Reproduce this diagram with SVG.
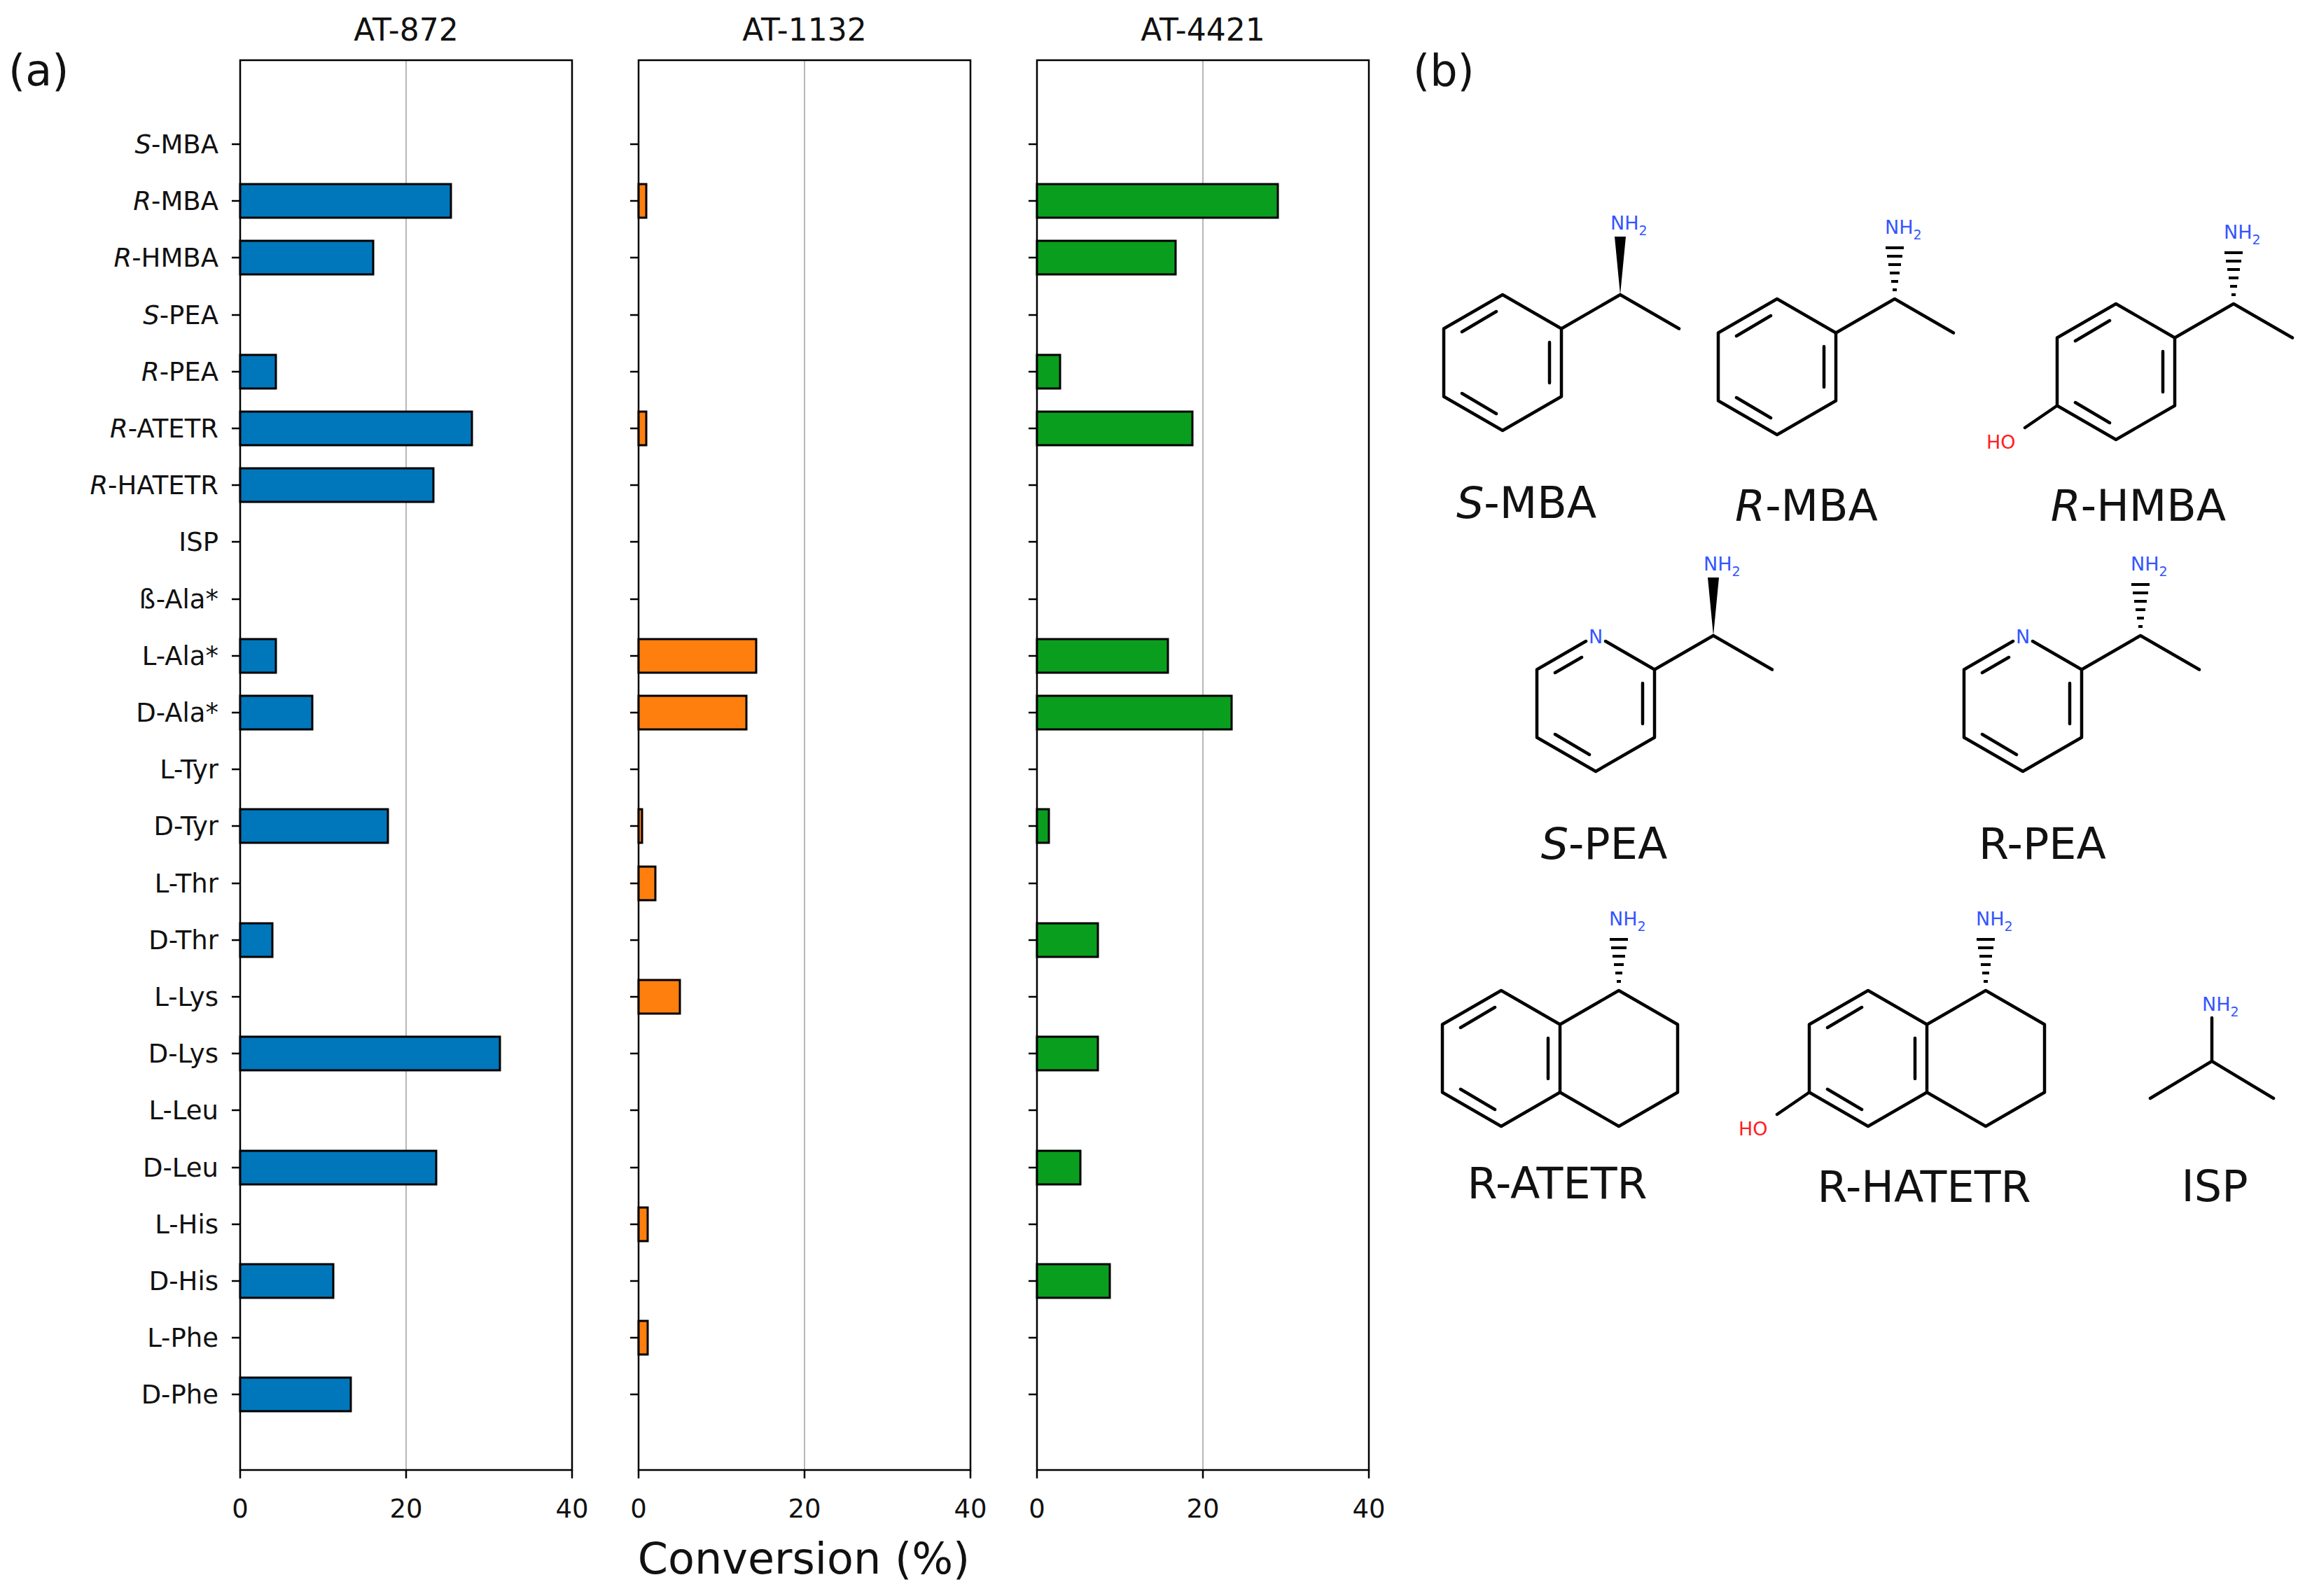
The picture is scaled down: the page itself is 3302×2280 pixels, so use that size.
<svg xmlns="http://www.w3.org/2000/svg" width="3302" height="2280" viewBox="0 0 3302 2280">
<style>
text{font-family:"DejaVu Sans","Liberation Sans",sans-serif;fill:#111}
.yl{font-size:37px;text-anchor:end}
.xl{font-size:37px;text-anchor:middle}
.ti{font-size:44px;text-anchor:middle}
.ml{font-size:62px;text-anchor:middle}
.nh{font-size:27px;fill:#3355ff}
.ho{font-size:27px;fill:#ff2020}
.frame{fill:none;stroke:#000;stroke-width:2.5}
.grid{stroke:#b8b8b8;stroke-width:2}
.tk{stroke:#000;stroke-width:2.5}
.b1{fill:#0077bb;stroke:#000;stroke-width:3}
.b2{fill:#ff7f0e;stroke:#000;stroke-width:3}
.b3{fill:#0a9e1e;stroke:#000;stroke-width:3}
.bd{fill:none;stroke:#000;stroke-width:4.5;stroke-linejoin:round;stroke-linecap:round}
</style>
<defs>
<g id="benz">
<path class="bd" d="M0,-97 L84,-48.5 L84,48.5 L0,97 L-84,48.5 L-84,-48.5 Z M67,-29 L67,29 M-58,44 L-9,73 M-58,-44 L-9,-73"/>
</g>
<g id="hash">
<path stroke="#000" stroke-width="4" d="M165,-110 h6 M163,-122 h10 M161,-134 h14 M159,-146 h18 M157,-158 h22 M155,-170 h26"/>
</g>
</defs>
<text x="12" y="122" style="font-size:62px">(a)</text>
<text x="2018" y="122" style="font-size:62px">(b)</text>
<g id="panel-AT-872">
<text class="ti" x="580" y="58">AT-872</text>
<line class="grid" x1="580" y1="86" x2="580" y2="2100"/>
<rect class="frame" x="343" y="86" width="474" height="2014"/>
</g>
<g id="panel-AT-1132">
<text class="ti" x="1149" y="58">AT-1132</text>
<line class="grid" x1="1149" y1="86" x2="1149" y2="2100"/>
<rect class="frame" x="912" y="86" width="474" height="2014"/>
</g>
<g id="panel-AT-4421">
<text class="ti" x="1718" y="58">AT-4421</text>
<line class="grid" x1="1718" y1="86" x2="1718" y2="2100"/>
<rect class="frame" x="1481" y="86" width="474" height="2014"/>
</g>
<g id="xticks">
<path class="tk" d="M343,2100v12M580,2100v12M817,2100v12M912,2100v12M1149,2100v12M1386,2100v12M1481,2100v12M1718,2100v12M1955,2100v12"/>
<text class="xl" x="343" y="2168">0</text><text class="xl" x="580" y="2168">20</text><text class="xl" x="817" y="2168">40</text>
<text class="xl" x="912" y="2168">0</text><text class="xl" x="1149" y="2168">20</text><text class="xl" x="1386" y="2168">40</text>
<text class="xl" x="1481" y="2168">0</text><text class="xl" x="1718" y="2168">20</text><text class="xl" x="1955" y="2168">40</text>
<text x="1148" y="2248" style="font-size:62px;text-anchor:middle">Conversion (%)</text>
</g>
<g id="yticks">
<path class="tk" d="M331,206h12M331,287h12M331,368h12M331,450h12M331,531h12M331,612h12M331,693h12M331,774h12M331,856h12M331,937h12M331,1018h12M331,1099h12M331,1180h12M331,1262h12M331,1343h12M331,1424h12M331,1505h12M331,1586h12M331,1668h12M331,1749h12M331,1830h12M331,1911h12M331,1992h12"/>
<path class="tk" d="M900,206h12M900,287h12M900,368h12M900,450h12M900,531h12M900,612h12M900,693h12M900,774h12M900,856h12M900,937h12M900,1018h12M900,1099h12M900,1180h12M900,1262h12M900,1343h12M900,1424h12M900,1505h12M900,1586h12M900,1668h12M900,1749h12M900,1830h12M900,1911h12M900,1992h12"/>
<path class="tk" d="M1469,206h12M1469,287h12M1469,368h12M1469,450h12M1469,531h12M1469,612h12M1469,693h12M1469,774h12M1469,856h12M1469,937h12M1469,1018h12M1469,1099h12M1469,1180h12M1469,1262h12M1469,1343h12M1469,1424h12M1469,1505h12M1469,1586h12M1469,1668h12M1469,1749h12M1469,1830h12M1469,1911h12M1469,1992h12"/>
<g transform="translate(0,13)">
<text class="yl" x="312" y="206"><tspan font-style="italic">S</tspan>-MBA</text>
<text class="yl" x="312" y="287"><tspan font-style="italic">R</tspan>-MBA</text>
<text class="yl" x="312" y="368"><tspan font-style="italic">R</tspan>-HMBA</text>
<text class="yl" x="312" y="450"><tspan font-style="italic">S</tspan>-PEA</text>
<text class="yl" x="312" y="531"><tspan font-style="italic">R</tspan>-PEA</text>
<text class="yl" x="312" y="612"><tspan font-style="italic">R</tspan>-ATETR</text>
<text class="yl" x="312" y="693"><tspan font-style="italic">R</tspan>-HATETR</text>
<text class="yl" x="312" y="774">ISP</text>
<text class="yl" x="312" y="856">ß-Ala*</text>
<text class="yl" x="312" y="937">L-Ala*</text>
<text class="yl" x="312" y="1018">D-Ala*</text>
<text class="yl" x="312" y="1099">L-Tyr</text>
<text class="yl" x="312" y="1180">D-Tyr</text>
<text class="yl" x="312" y="1262">L-Thr</text>
<text class="yl" x="312" y="1343">D-Thr</text>
<text class="yl" x="312" y="1424">L-Lys</text>
<text class="yl" x="312" y="1505">D-Lys</text>
<text class="yl" x="312" y="1586">L-Leu</text>
<text class="yl" x="312" y="1668">D-Leu</text>
<text class="yl" x="312" y="1749">L-His</text>
<text class="yl" x="312" y="1830">D-His</text>
<text class="yl" x="312" y="1911">L-Phe</text>
<text class="yl" x="312" y="1992">D-Phe</text>
</g>
</g>
<g id="bars-AT-872">
<rect class="b1" x="343" y="263" width="301" height="48"/>
<rect class="b1" x="343" y="344" width="190" height="48"/>
<rect class="b1" x="343" y="507" width="51" height="48"/>
<rect class="b1" x="343" y="588" width="331" height="48"/>
<rect class="b1" x="343" y="669" width="276" height="48"/>
<rect class="b1" x="343" y="913" width="51" height="48"/>
<rect class="b1" x="343" y="994" width="103" height="48"/>
<rect class="b1" x="343" y="1156" width="211" height="48"/>
<rect class="b1" x="343" y="1319" width="46" height="48"/>
<rect class="b1" x="343" y="1481" width="371" height="48"/>
<rect class="b1" x="343" y="1644" width="280" height="48"/>
<rect class="b1" x="343" y="1806" width="133" height="48"/>
<rect class="b1" x="343" y="1968" width="158" height="48"/>
</g>
<g id="bars-AT-1132">
<rect class="b2" x="912" y="263" width="11" height="48"/>
<rect class="b2" x="912" y="588" width="11" height="48"/>
<rect class="b2" x="912" y="913" width="168" height="48"/>
<rect class="b2" x="912" y="994" width="154" height="48"/>
<rect class="b2" x="912" y="1156" width="5" height="48"/>
<rect class="b2" x="912" y="1238" width="24" height="48"/>
<rect class="b2" x="912" y="1400" width="59" height="48"/>
<rect class="b2" x="912" y="1725" width="13" height="48"/>
<rect class="b2" x="912" y="1887" width="13" height="48"/>
</g>
<g id="bars-AT-4421">
<rect class="b3" x="1481" y="263" width="344" height="48"/>
<rect class="b3" x="1481" y="344" width="198" height="48"/>
<rect class="b3" x="1481" y="507" width="33" height="48"/>
<rect class="b3" x="1481" y="588" width="222" height="48"/>
<rect class="b3" x="1481" y="913" width="187" height="48"/>
<rect class="b3" x="1481" y="994" width="278" height="48"/>
<rect class="b3" x="1481" y="1156" width="17" height="48"/>
<rect class="b3" x="1481" y="1319" width="87" height="48"/>
<rect class="b3" x="1481" y="1481" width="87" height="48"/>
<rect class="b3" x="1481" y="1644" width="62" height="48"/>
<rect class="b3" x="1481" y="1806" width="104" height="48"/>
</g>
<g id="mol-S-MBA" transform="translate(2146,518)">
<use href="#benz"/>
<path class="bd" d="M84,-48.5 L168,-97 L252,-48.5"/>
<polygon points="168,-97 160,-180 176,-180" fill="#000"/>
<text class="nh" x="154" y="-190">NH<tspan font-size="19" dy="8">2</tspan></text>
<text class="ml" x="34" y="222"><tspan font-style="italic">S</tspan>-MBA</text>
</g>
<g id="mol-R-MBA" transform="translate(2538,524)">
<use href="#benz"/>
<path class="bd" d="M84,-48.5 L168,-97 L252,-48.5"/>
<use href="#hash"/>
<text class="nh" x="154" y="-190">NH<tspan font-size="19" dy="8">2</tspan></text>
<text class="ml" x="42" y="220"><tspan font-style="italic">R</tspan>-MBA</text>
</g>
<g id="mol-R-HMBA" transform="translate(3022,531)">
<use href="#benz"/>
<path class="bd" d="M84,-48.5 L168,-97 L252,-48.5 M-84,48.5 L-130,80"/>
<use href="#hash"/>
<text class="nh" x="154" y="-190">NH<tspan font-size="19" dy="8">2</tspan></text>
<text class="ho" x="-185" y="110">HO</text>
<text class="ml" x="32" y="213"><tspan font-style="italic">R</tspan>-HMBA</text>
</g>
<g id="mol-S-PEA" transform="translate(2279,1005)">
<path class="bd" d="M14,-89 L84,-48.5 L84,48.5 L0,97 L-84,48.5 L-84,-48.5 L-14,-89 M67,-29 L67,29 M-58,44 L-9,73 M-58,-44 L-20,-66"/>
<text x="0" y="-86" style="font-size:27px;fill:#3355ff;text-anchor:middle">N</text>
<path class="bd" d="M84,-48.5 L168,-97 L252,-48.5"/>
<polygon points="168,-97 160,-180 176,-180" fill="#000"/>
<text class="nh" x="154" y="-190">NH<tspan font-size="19" dy="8">2</tspan></text>
<text class="ml" x="12" y="222"><tspan font-style="italic">S</tspan>-PEA</text>
</g>
<g id="mol-R-PEA" transform="translate(2889,1005)">
<path class="bd" d="M14,-89 L84,-48.5 L84,48.5 L0,97 L-84,48.5 L-84,-48.5 L-14,-89 M67,-29 L67,29 M-58,44 L-9,73 M-58,-44 L-20,-66"/>
<text x="0" y="-86" style="font-size:27px;fill:#3355ff;text-anchor:middle">N</text>
<path class="bd" d="M84,-48.5 L168,-97 L252,-48.5"/>
<use href="#hash"/>
<text class="nh" x="154" y="-190">NH<tspan font-size="19" dy="8">2</tspan></text>
<text class="ml" x="28" y="222">R-PEA</text>
</g>
<g id="mol-R-ATETR" transform="translate(2144,1512)">
<use href="#benz"/>
<path class="bd" d="M84,-48.5 L168,-97 L252,-48.5 L252,48.5 L168,97 L84,48.5"/>
<use href="#hash"/>
<text class="nh" x="154" y="-190">NH<tspan font-size="19" dy="8">2</tspan></text>
<text class="ml" x="80" y="200">R-ATETR</text>
</g>
<g id="mol-R-HATETR" transform="translate(2668,1512)">
<use href="#benz"/>
<path class="bd" d="M84,-48.5 L168,-97 L252,-48.5 L252,48.5 L168,97 L84,48.5 M-84,48.5 L-130,80"/>
<use href="#hash"/>
<text class="nh" x="154" y="-190">NH<tspan font-size="19" dy="8">2</tspan></text>
<text class="ho" x="-185" y="110">HO</text>
<text class="ml" x="80" y="205">R-HATETR</text>
</g>
<g id="mol-ISP" transform="translate(3159,1516)">
<path class="bd" d="M-88,53 L0,0 L88,53 M0,0 L0,-62"/>
<text class="nh" x="-14" y="-72">NH<tspan font-size="19" dy="8">2</tspan></text>
<text class="ml" x="4" y="200">ISP</text>
</g>
</svg>
